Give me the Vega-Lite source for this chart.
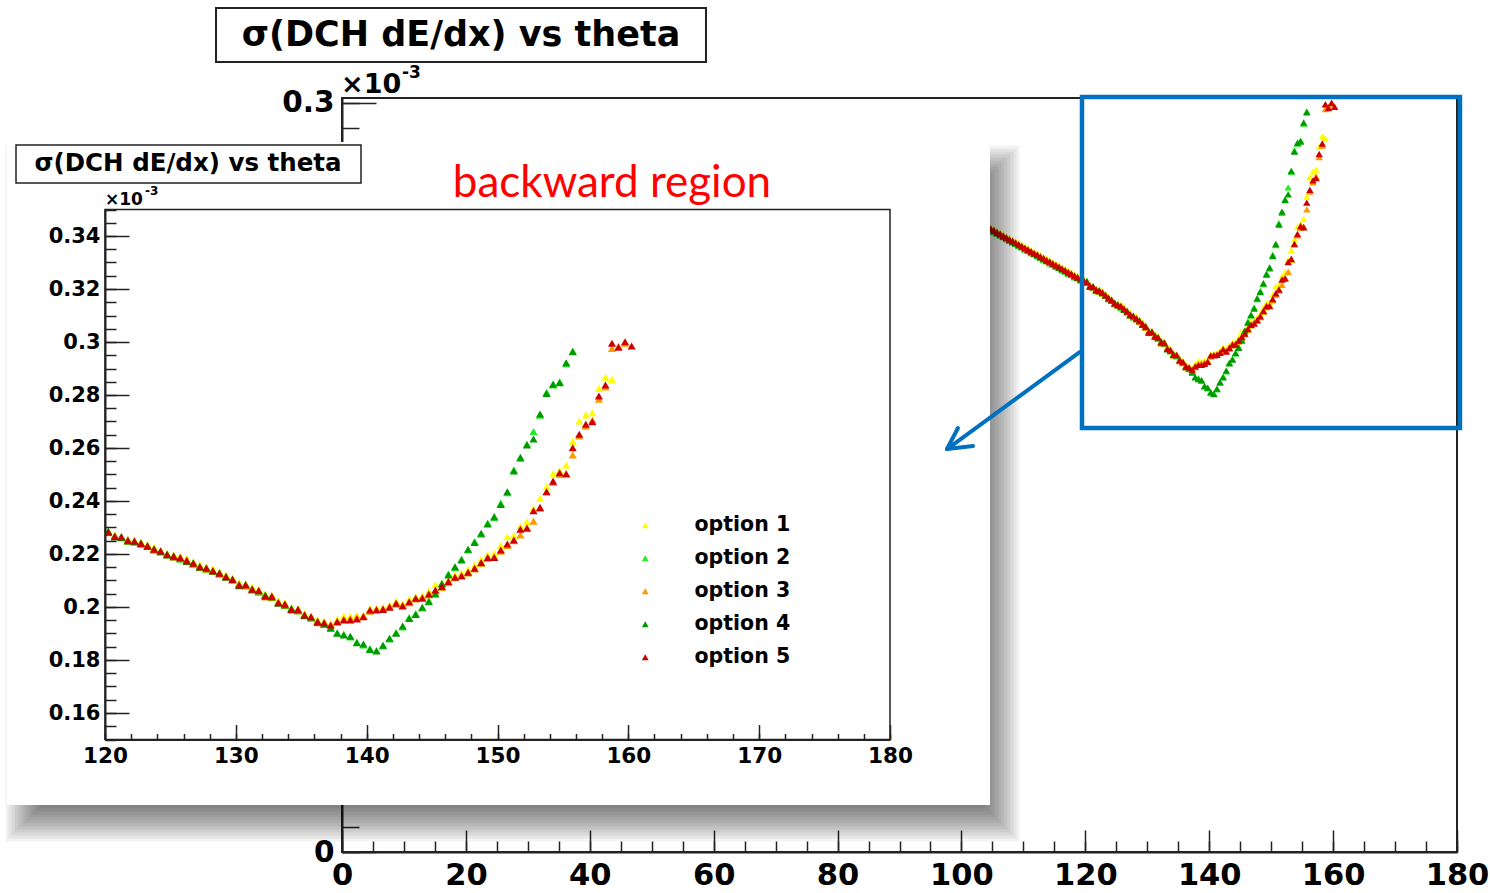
{
"$schema":"https://vega.github.io/schema/vega-lite/v6.json",
"width":1115,"height":754,
"autosize":{"type":"none"},
"padding":{"left":342,"top":98,"right":33,"bottom":41},
"background":"white",
"config":{"view":{"stroke":null},
 "axis":{"grid":false,"title":null,"domainColor":"#222","domainWidth":2,"tickColor":"#222","tickWidth":1.5,"labelFont":"DejaVu Sans","labelFontWeight":"bold","labelColor":"#000","labelOverlap":false,"labelFlush":false,"labelBound":false}},
"datasets":{"pts":[
{"t":104.25,"o":1,"v":0.2508},{"t":104.75,"o":1,"v":0.2500},{"t":105.25,"o":1,"v":0.2496},{"t":105.75,"o":1,"v":0.2487},{"t":106.25,"o":1,"v":0.2481},{"t":106.75,"o":1,"v":0.2474},{"t":107.25,"o":1,"v":0.2466},{"t":107.75,"o":1,"v":0.2460},{"t":108.25,"o":1,"v":0.2452},{"t":108.75,"o":1,"v":0.2447},{"t":109.25,"o":1,"v":0.2438},{"t":109.75,"o":1,"v":0.2433},{"t":110.25,"o":1,"v":0.2424},{"t":110.75,"o":1,"v":0.2419},{"t":111.25,"o":1,"v":0.2410},{"t":111.75,"o":1,"v":0.2405},{"t":112.25,"o":1,"v":0.2397},{"t":112.75,"o":1,"v":0.2391},{"t":113.25,"o":1,"v":0.2383},{"t":113.75,"o":1,"v":0.2377},{"t":114.25,"o":1,"v":0.2369},{"t":114.75,"o":1,"v":0.2364},{"t":115.25,"o":1,"v":0.2355},{"t":115.75,"o":1,"v":0.2350},{"t":116.25,"o":1,"v":0.2341},{"t":116.75,"o":1,"v":0.2336},{"t":117.25,"o":1,"v":0.2327},{"t":117.75,"o":1,"v":0.2323},{"t":118.25,"o":1,"v":0.2313},{"t":118.75,"o":1,"v":0.2309},{"t":119.25,"o":1,"v":0.2300},{"t":119.75,"o":1,"v":0.2294},
{"t":120.25,"o":1,"v":0.2287},{"t":120.75,"o":1,"v":0.2272},{"t":121.25,"o":1,"v":0.2262},{"t":121.75,"o":1,"v":0.2256},{"t":122.25,"o":1,"v":0.2252},{"t":122.75,"o":1,"v":0.2246},{"t":123.25,"o":1,"v":0.2236},{"t":123.75,"o":1,"v":0.2226},{"t":124.25,"o":1,"v":0.2214},{"t":124.75,"o":1,"v":0.2203},{"t":125.25,"o":1,"v":0.2198},{"t":125.75,"o":1,"v":0.2192},{"t":126.25,"o":1,"v":0.2182},{"t":126.75,"o":1,"v":0.2170},{"t":127.25,"o":1,"v":0.2160},{"t":127.75,"o":1,"v":0.2150},{"t":128.25,"o":1,"v":0.2145},{"t":128.75,"o":1,"v":0.2134},{"t":129.25,"o":1,"v":0.2121},{"t":129.75,"o":1,"v":0.2110},{"t":130.25,"o":1,"v":0.2092},{"t":130.75,"o":1,"v":0.2088},{"t":131.25,"o":1,"v":0.2075},{"t":131.75,"o":1,"v":0.2067},{"t":132.25,"o":1,"v":0.2050},{"t":132.75,"o":1,"v":0.2045},{"t":133.25,"o":1,"v":0.2024},{"t":133.75,"o":1,"v":0.2016},{"t":134.25,"o":1,"v":0.1999},{"t":134.75,"o":1,"v":0.1995},{"t":135.25,"o":1,"v":0.1976},{"t":135.75,"o":1,"v":0.1967},{"t":136.25,"o":1,"v":0.1952},{"t":136.75,"o":1,"v":0.1946},{"t":137.25,"o":1,"v":0.1938},{"t":137.75,"o":1,"v":0.1955},{"t":138.25,"o":1,"v":0.1966},{"t":138.75,"o":1,"v":0.1964},{"t":139.25,"o":1,"v":0.1968},{"t":139.75,"o":1,"v":0.1970},{"t":140.25,"o":1,"v":0.1994},{"t":140.75,"o":1,"v":0.1996},{"t":141.25,"o":1,"v":0.1998},{"t":141.75,"o":1,"v":0.2008},{"t":142.25,"o":1,"v":0.2022},{"t":142.75,"o":1,"v":0.2012},{"t":143.25,"o":1,"v":0.2030},{"t":143.75,"o":1,"v":0.2040},{"t":144.25,"o":1,"v":0.2042},{"t":144.75,"o":1,"v":0.2060},{"t":145.25,"o":1,"v":0.2085},{"t":145.75,"o":1,"v":0.2089},{"t":146.25,"o":1,"v":0.2106},{"t":146.75,"o":1,"v":0.2122},{"t":147.25,"o":1,"v":0.2128},{"t":147.75,"o":1,"v":0.2142},{"t":148.25,"o":1,"v":0.2158},{"t":148.75,"o":1,"v":0.2180},{"t":149.25,"o":1,"v":0.2198},{"t":149.75,"o":1,"v":0.2203},{"t":150.25,"o":1,"v":0.2232},{"t":150.75,"o":1,"v":0.2265},{"t":151.25,"o":1,"v":0.2270},{"t":151.75,"o":1,"v":0.2305},{"t":152.25,"o":1,"v":0.2322},{"t":152.75,"o":1,"v":0.2372},{"t":153.25,"o":1,"v":0.2410},{"t":153.75,"o":1,"v":0.2454},{"t":154.25,"o":1,"v":0.2504},{"t":154.75,"o":1,"v":0.2515},{"t":155.25,"o":1,"v":0.2536},{"t":155.75,"o":1,"v":0.2625},{"t":156.25,"o":1,"v":0.2702},{"t":156.75,"o":1,"v":0.2725},{"t":157.25,"o":1,"v":0.2733},{"t":157.75,"o":1,"v":0.2825},{"t":158.25,"o":1,"v":0.2867},{"t":158.75,"o":1,"v":0.2859},
{"t":104.25,"o":2,"v":0.2497},{"t":104.75,"o":2,"v":0.2490},{"t":105.25,"o":2,"v":0.2483},{"t":105.75,"o":2,"v":0.2477},{"t":106.25,"o":2,"v":0.2469},{"t":106.75,"o":2,"v":0.2463},{"t":107.25,"o":2,"v":0.2455},{"t":107.75,"o":2,"v":0.2449},{"t":108.25,"o":2,"v":0.2441},{"t":108.75,"o":2,"v":0.2436},{"t":109.25,"o":2,"v":0.2427},{"t":109.75,"o":2,"v":0.2422},{"t":110.25,"o":2,"v":0.2413},{"t":110.75,"o":2,"v":0.2408},{"t":111.25,"o":2,"v":0.2399},{"t":111.75,"o":2,"v":0.2394},{"t":112.25,"o":2,"v":0.2386},{"t":112.75,"o":2,"v":0.2380},{"t":113.25,"o":2,"v":0.2372},{"t":113.75,"o":2,"v":0.2366},{"t":114.25,"o":2,"v":0.2358},{"t":114.75,"o":2,"v":0.2353},{"t":115.25,"o":2,"v":0.2344},{"t":115.75,"o":2,"v":0.2339},{"t":116.25,"o":2,"v":0.2330},{"t":116.75,"o":2,"v":0.2325},{"t":117.25,"o":2,"v":0.2316},{"t":117.75,"o":2,"v":0.2312},{"t":118.25,"o":2,"v":0.2302},{"t":118.75,"o":2,"v":0.2298},{"t":119.25,"o":2,"v":0.2289},{"t":119.75,"o":2,"v":0.2284},
{"t":120.25,"o":2,"v":0.2288},{"t":120.75,"o":2,"v":0.2264},{"t":121.25,"o":2,"v":0.2266},{"t":121.75,"o":2,"v":0.2247},{"t":122.25,"o":2,"v":0.2250},{"t":122.75,"o":2,"v":0.2236},{"t":123.25,"o":2,"v":0.2232},{"t":123.75,"o":2,"v":0.2214},{"t":124.25,"o":2,"v":0.2212},{"t":124.75,"o":2,"v":0.2195},{"t":125.25,"o":2,"v":0.2194},{"t":125.75,"o":2,"v":0.2180},{"t":126.25,"o":2,"v":0.2177},{"t":126.75,"o":2,"v":0.2162},{"t":127.25,"o":2,"v":0.2155},{"t":127.75,"o":2,"v":0.2141},{"t":128.25,"o":2,"v":0.2138},{"t":128.75,"o":2,"v":0.2125},{"t":129.25,"o":2,"v":0.2117},{"t":129.75,"o":2,"v":0.2102},{"t":130.25,"o":2,"v":0.2088},{"t":130.75,"o":2,"v":0.2080},{"t":131.25,"o":2,"v":0.2070},{"t":131.75,"o":2,"v":0.2056},{"t":132.25,"o":2,"v":0.2046},{"t":132.75,"o":2,"v":0.2035},{"t":133.25,"o":2,"v":0.2019},{"t":133.75,"o":2,"v":0.2005},{"t":134.25,"o":2,"v":0.1995},{"t":134.75,"o":2,"v":0.1985},{"t":135.25,"o":2,"v":0.1972},{"t":135.75,"o":2,"v":0.1958},{"t":136.25,"o":2,"v":0.1946},{"t":136.75,"o":2,"v":0.1934},{"t":137.25,"o":2,"v":0.1923},{"t":137.75,"o":2,"v":0.1903},{"t":138.25,"o":2,"v":0.1897},{"t":138.75,"o":2,"v":0.1887},{"t":139.25,"o":2,"v":0.1868},{"t":139.75,"o":2,"v":0.1857},{"t":140.25,"o":2,"v":0.1843},{"t":140.75,"o":2,"v":0.1836},{"t":141.25,"o":2,"v":0.1853},{"t":141.75,"o":2,"v":0.1879},{"t":142.25,"o":2,"v":0.1904},{"t":142.75,"o":2,"v":0.1925},{"t":143.25,"o":2,"v":0.1960},{"t":143.75,"o":2,"v":0.1975},{"t":144.25,"o":2,"v":0.1996},{"t":144.75,"o":2,"v":0.2024},{"t":145.25,"o":2,"v":0.2052},{"t":145.75,"o":2,"v":0.2086},{"t":146.25,"o":2,"v":0.2125},{"t":146.75,"o":2,"v":0.2149},{"t":147.25,"o":2,"v":0.2181},{"t":147.75,"o":2,"v":0.2215},{"t":148.25,"o":2,"v":0.2247},{"t":148.75,"o":2,"v":0.2275},{"t":149.25,"o":2,"v":0.2317},{"t":149.75,"o":2,"v":0.2337},{"t":150.25,"o":2,"v":0.2392},{"t":150.75,"o":2,"v":0.2431},{"t":151.25,"o":2,"v":0.2518},{"t":151.75,"o":2,"v":0.2560},{"t":152.25,"o":2,"v":0.2615},{"t":152.75,"o":2,"v":0.2662},{"t":153.25,"o":2,"v":0.2724},{"t":153.75,"o":2,"v":0.2810},{"t":154.25,"o":2,"v":0.2838},{"t":154.75,"o":2,"v":0.2850},{"t":155.25,"o":2,"v":0.2918},{"t":155.75,"o":2,"v":0.2966},
{"t":104.25,"o":3,"v":0.2504},{"t":104.75,"o":3,"v":0.2496},{"t":105.25,"o":3,"v":0.2491},{"t":105.75,"o":3,"v":0.2483},{"t":106.25,"o":3,"v":0.2477},{"t":106.75,"o":3,"v":0.2469},{"t":107.25,"o":3,"v":0.2462},{"t":107.75,"o":3,"v":0.2455},{"t":108.25,"o":3,"v":0.2449},{"t":108.75,"o":3,"v":0.2441},{"t":109.25,"o":3,"v":0.2435},{"t":109.75,"o":3,"v":0.2428},{"t":110.25,"o":3,"v":0.2420},{"t":110.75,"o":3,"v":0.2414},{"t":111.25,"o":3,"v":0.2407},{"t":111.75,"o":3,"v":0.2399},{"t":112.25,"o":3,"v":0.2394},{"t":112.75,"o":3,"v":0.2386},{"t":113.25,"o":3,"v":0.2379},{"t":113.75,"o":3,"v":0.2372},{"t":114.25,"o":3,"v":0.2366},{"t":114.75,"o":3,"v":0.2358},{"t":115.25,"o":3,"v":0.2352},{"t":115.75,"o":3,"v":0.2345},{"t":116.25,"o":3,"v":0.2337},{"t":116.75,"o":3,"v":0.2331},{"t":117.25,"o":3,"v":0.2324},{"t":117.75,"o":3,"v":0.2317},{"t":118.25,"o":3,"v":0.2310},{"t":118.75,"o":3,"v":0.2303},{"t":119.25,"o":3,"v":0.2297},{"t":119.75,"o":3,"v":0.2290},
{"t":120.25,"o":3,"v":0.2280},{"t":120.75,"o":3,"v":0.2270},{"t":121.25,"o":3,"v":0.2260},{"t":121.75,"o":3,"v":0.2255},{"t":122.25,"o":3,"v":0.2244},{"t":122.75,"o":3,"v":0.2238},{"t":123.25,"o":3,"v":0.2233},{"t":123.75,"o":3,"v":0.2216},{"t":124.25,"o":3,"v":0.2208},{"t":124.75,"o":3,"v":0.2199},{"t":125.25,"o":3,"v":0.2188},{"t":125.75,"o":3,"v":0.2184},{"t":126.25,"o":3,"v":0.2178},{"t":126.75,"o":3,"v":0.2160},{"t":127.25,"o":3,"v":0.2150},{"t":127.75,"o":3,"v":0.2143},{"t":128.25,"o":3,"v":0.2134},{"t":128.75,"o":3,"v":0.2124},{"t":129.25,"o":3,"v":0.2116},{"t":129.75,"o":3,"v":0.2100},{"t":130.25,"o":3,"v":0.2086},{"t":130.75,"o":3,"v":0.2079},{"t":131.25,"o":3,"v":0.2064},{"t":131.75,"o":3,"v":0.2058},{"t":132.25,"o":3,"v":0.2038},{"t":132.75,"o":3,"v":0.2036},{"t":133.25,"o":3,"v":0.2018},{"t":133.75,"o":3,"v":0.2007},{"t":134.25,"o":3,"v":0.1988},{"t":134.75,"o":3,"v":0.1986},{"t":135.25,"o":3,"v":0.1966},{"t":135.75,"o":3,"v":0.1958},{"t":136.25,"o":3,"v":0.1941},{"t":136.75,"o":3,"v":0.1936},{"t":137.25,"o":3,"v":0.1928},{"t":137.75,"o":3,"v":0.1942},{"t":138.25,"o":3,"v":0.1954},{"t":138.75,"o":3,"v":0.1957},{"t":139.25,"o":3,"v":0.1960},{"t":139.75,"o":3,"v":0.1966},{"t":140.25,"o":3,"v":0.1984},{"t":140.75,"o":3,"v":0.1992},{"t":141.25,"o":3,"v":0.1994},{"t":141.75,"o":3,"v":0.2003},{"t":142.25,"o":3,"v":0.2010},{"t":142.75,"o":3,"v":0.2008},{"t":143.25,"o":3,"v":0.2016},{"t":143.75,"o":3,"v":0.2030},{"t":144.25,"o":3,"v":0.2037},{"t":144.75,"o":3,"v":0.2045},{"t":145.25,"o":3,"v":0.2060},{"t":145.75,"o":3,"v":0.2074},{"t":146.25,"o":3,"v":0.2092},{"t":146.75,"o":3,"v":0.2110},{"t":147.25,"o":3,"v":0.2120},{"t":147.75,"o":3,"v":0.2128},{"t":148.25,"o":3,"v":0.2143},{"t":148.75,"o":3,"v":0.2164},{"t":149.25,"o":3,"v":0.2183},{"t":149.75,"o":3,"v":0.2190},{"t":150.25,"o":3,"v":0.2210},{"t":150.75,"o":3,"v":0.2232},{"t":151.25,"o":3,"v":0.2250},{"t":151.75,"o":3,"v":0.2272},{"t":152.25,"o":3,"v":0.2300},{"t":152.75,"o":3,"v":0.2324},{"t":153.25,"o":3,"v":0.2372},{"t":153.75,"o":3,"v":0.2435},{"t":154.25,"o":3,"v":0.2470},{"t":154.75,"o":3,"v":0.2500},{"t":155.25,"o":3,"v":0.2504},{"t":155.75,"o":3,"v":0.2574},{"t":156.25,"o":3,"v":0.2645},{"t":156.75,"o":3,"v":0.2682},{"t":157.25,"o":3,"v":0.2706},{"t":157.75,"o":3,"v":0.2784},{"t":158.25,"o":3,"v":0.2830},{"t":158.75,"o":3,"v":0.2976},{"t":159.25,"o":3,"v":0.2984},{"t":159.75,"o":3,"v":0.2995},
{"t":104.25,"o":4,"v":0.2500},{"t":104.75,"o":4,"v":0.2493},{"t":105.25,"o":4,"v":0.2487},{"t":105.75,"o":4,"v":0.2479},{"t":106.25,"o":4,"v":0.2473},{"t":106.75,"o":4,"v":0.2465},{"t":107.25,"o":4,"v":0.2459},{"t":107.75,"o":4,"v":0.2451},{"t":108.25,"o":4,"v":0.2445},{"t":108.75,"o":4,"v":0.2438},{"t":109.25,"o":4,"v":0.2431},{"t":109.75,"o":4,"v":0.2424},{"t":110.25,"o":4,"v":0.2417},{"t":110.75,"o":4,"v":0.2410},{"t":111.25,"o":4,"v":0.2403},{"t":111.75,"o":4,"v":0.2396},{"t":112.25,"o":4,"v":0.2390},{"t":112.75,"o":4,"v":0.2382},{"t":113.25,"o":4,"v":0.2376},{"t":113.75,"o":4,"v":0.2368},{"t":114.25,"o":4,"v":0.2362},{"t":114.75,"o":4,"v":0.2355},{"t":115.25,"o":4,"v":0.2348},{"t":115.75,"o":4,"v":0.2341},{"t":116.25,"o":4,"v":0.2334},{"t":116.75,"o":4,"v":0.2327},{"t":117.25,"o":4,"v":0.2320},{"t":117.75,"o":4,"v":0.2314},{"t":118.25,"o":4,"v":0.2306},{"t":118.75,"o":4,"v":0.2300},{"t":119.25,"o":4,"v":0.2293},{"t":119.75,"o":4,"v":0.2286},
{"t":120.25,"o":4,"v":0.2285},{"t":120.75,"o":4,"v":0.2268},{"t":121.25,"o":4,"v":0.2262},{"t":121.75,"o":4,"v":0.2252},{"t":122.25,"o":4,"v":0.2246},{"t":122.75,"o":4,"v":0.2242},{"t":123.25,"o":4,"v":0.2228},{"t":123.75,"o":4,"v":0.2220},{"t":124.25,"o":4,"v":0.2209},{"t":124.75,"o":4,"v":0.2200},{"t":125.25,"o":4,"v":0.2190},{"t":125.75,"o":4,"v":0.2184},{"t":126.25,"o":4,"v":0.2172},{"t":126.75,"o":4,"v":0.2167},{"t":127.25,"o":4,"v":0.2150},{"t":127.75,"o":4,"v":0.2148},{"t":128.25,"o":4,"v":0.2135},{"t":128.75,"o":4,"v":0.2129},{"t":129.25,"o":4,"v":0.2112},{"t":129.75,"o":4,"v":0.2106},{"t":130.25,"o":4,"v":0.2080},{"t":130.75,"o":4,"v":0.2085},{"t":131.25,"o":4,"v":0.2065},{"t":131.75,"o":4,"v":0.2060},{"t":132.25,"o":4,"v":0.2044},{"t":132.75,"o":4,"v":0.2038},{"t":133.25,"o":4,"v":0.2014},{"t":133.75,"o":4,"v":0.2008},{"t":134.25,"o":4,"v":0.1993},{"t":134.75,"o":4,"v":0.1988},{"t":135.25,"o":4,"v":0.1968},{"t":135.75,"o":4,"v":0.1961},{"t":136.25,"o":4,"v":0.1942},{"t":136.75,"o":4,"v":0.1936},{"t":137.25,"o":4,"v":0.1920},{"t":137.75,"o":4,"v":0.1901},{"t":138.25,"o":4,"v":0.1894},{"t":138.75,"o":4,"v":0.1890},{"t":139.25,"o":4,"v":0.1865},{"t":139.75,"o":4,"v":0.1860},{"t":140.25,"o":4,"v":0.1840},{"t":140.75,"o":4,"v":0.1834},{"t":141.25,"o":4,"v":0.1856},{"t":141.75,"o":4,"v":0.1882},{"t":142.25,"o":4,"v":0.1901},{"t":142.75,"o":4,"v":0.1928},{"t":143.25,"o":4,"v":0.1957},{"t":143.75,"o":4,"v":0.1972},{"t":144.25,"o":4,"v":0.1999},{"t":144.75,"o":4,"v":0.2020},{"t":145.25,"o":4,"v":0.2049},{"t":145.75,"o":4,"v":0.2089},{"t":146.25,"o":4,"v":0.2121},{"t":146.75,"o":4,"v":0.2152},{"t":147.25,"o":4,"v":0.2177},{"t":147.75,"o":4,"v":0.2218},{"t":148.25,"o":4,"v":0.2243},{"t":148.75,"o":4,"v":0.2278},{"t":149.25,"o":4,"v":0.2313},{"t":149.75,"o":4,"v":0.2341},{"t":150.25,"o":4,"v":0.2387},{"t":150.75,"o":4,"v":0.2435},{"t":151.25,"o":4,"v":0.2513},{"t":151.75,"o":4,"v":0.2565},{"t":152.25,"o":4,"v":0.2611},{"t":152.75,"o":4,"v":0.2634},{"t":153.25,"o":4,"v":0.2728},{"t":153.75,"o":4,"v":0.2806},{"t":154.25,"o":4,"v":0.2841},{"t":154.75,"o":4,"v":0.2846},{"t":155.25,"o":4,"v":0.2922},{"t":155.75,"o":4,"v":0.2963},
{"t":104.25,"o":5,"v":0.2502},{"t":104.75,"o":5,"v":0.2495},{"t":105.25,"o":5,"v":0.2489},{"t":105.75,"o":5,"v":0.2481},{"t":106.25,"o":5,"v":0.2475},{"t":106.75,"o":5,"v":0.2467},{"t":107.25,"o":5,"v":0.2461},{"t":107.75,"o":5,"v":0.2453},{"t":108.25,"o":5,"v":0.2447},{"t":108.75,"o":5,"v":0.2440},{"t":109.25,"o":5,"v":0.2433},{"t":109.75,"o":5,"v":0.2426},{"t":110.25,"o":5,"v":0.2419},{"t":110.75,"o":5,"v":0.2412},{"t":111.25,"o":5,"v":0.2405},{"t":111.75,"o":5,"v":0.2398},{"t":112.25,"o":5,"v":0.2392},{"t":112.75,"o":5,"v":0.2384},{"t":113.25,"o":5,"v":0.2378},{"t":113.75,"o":5,"v":0.2370},{"t":114.25,"o":5,"v":0.2364},{"t":114.75,"o":5,"v":0.2357},{"t":115.25,"o":5,"v":0.2350},{"t":115.75,"o":5,"v":0.2343},{"t":116.25,"o":5,"v":0.2336},{"t":116.75,"o":5,"v":0.2329},{"t":117.25,"o":5,"v":0.2322},{"t":117.75,"o":5,"v":0.2316},{"t":118.25,"o":5,"v":0.2308},{"t":118.75,"o":5,"v":0.2302},{"t":119.25,"o":5,"v":0.2295},{"t":119.75,"o":5,"v":0.2288},
{"t":120.25,"o":5,"v":0.2282},{"t":120.75,"o":5,"v":0.2265},{"t":121.25,"o":5,"v":0.2265},{"t":121.75,"o":5,"v":0.2250},{"t":122.25,"o":5,"v":0.2249},{"t":122.75,"o":5,"v":0.2240},{"t":123.25,"o":5,"v":0.2230},{"t":123.75,"o":5,"v":0.2218},{"t":124.25,"o":5,"v":0.2211},{"t":124.75,"o":5,"v":0.2197},{"t":125.25,"o":5,"v":0.2192},{"t":125.75,"o":5,"v":0.2187},{"t":126.25,"o":5,"v":0.2175},{"t":126.75,"o":5,"v":0.2165},{"t":127.25,"o":5,"v":0.2152},{"t":127.75,"o":5,"v":0.2146},{"t":128.25,"o":5,"v":0.2137},{"t":128.75,"o":5,"v":0.2127},{"t":129.25,"o":5,"v":0.2114},{"t":129.75,"o":5,"v":0.2104},{"t":130.25,"o":5,"v":0.2083},{"t":130.75,"o":5,"v":0.2083},{"t":131.25,"o":5,"v":0.2067},{"t":131.75,"o":5,"v":0.2062},{"t":132.25,"o":5,"v":0.2041},{"t":132.75,"o":5,"v":0.2041},{"t":133.25,"o":5,"v":0.2016},{"t":133.75,"o":5,"v":0.2011},{"t":134.25,"o":5,"v":0.1991},{"t":134.75,"o":5,"v":0.1991},{"t":135.25,"o":5,"v":0.1970},{"t":135.75,"o":5,"v":0.1963},{"t":136.25,"o":5,"v":0.1945},{"t":136.75,"o":5,"v":0.1941},{"t":137.25,"o":5,"v":0.1932},{"t":137.75,"o":5,"v":0.1945},{"t":138.25,"o":5,"v":0.1951},{"t":138.75,"o":5,"v":0.1951},{"t":139.25,"o":5,"v":0.1955},{"t":139.75,"o":5,"v":0.1963},{"t":140.25,"o":5,"v":0.1989},{"t":140.75,"o":5,"v":0.1989},{"t":141.25,"o":5,"v":0.1991},{"t":141.75,"o":5,"v":0.1999},{"t":142.25,"o":5,"v":0.2014},{"t":142.75,"o":5,"v":0.2004},{"t":143.25,"o":5,"v":0.2020},{"t":143.75,"o":5,"v":0.2033},{"t":144.25,"o":5,"v":0.2033},{"t":144.75,"o":5,"v":0.2049},{"t":145.25,"o":5,"v":0.2064},{"t":145.75,"o":5,"v":0.2077},{"t":146.25,"o":5,"v":0.2096},{"t":146.75,"o":5,"v":0.2112},{"t":147.25,"o":5,"v":0.2117},{"t":147.75,"o":5,"v":0.2131},{"t":148.25,"o":5,"v":0.2146},{"t":148.75,"o":5,"v":0.2168},{"t":149.25,"o":5,"v":0.2187},{"t":149.75,"o":5,"v":0.2187},{"t":150.25,"o":5,"v":0.2215},{"t":150.75,"o":5,"v":0.2238},{"t":151.25,"o":5,"v":0.2253},{"t":151.75,"o":5,"v":0.2293},{"t":152.25,"o":5,"v":0.2297},{"t":152.75,"o":5,"v":0.2363},{"t":153.25,"o":5,"v":0.2376},{"t":153.75,"o":5,"v":0.2435},{"t":154.25,"o":5,"v":0.2475},{"t":154.75,"o":5,"v":0.2507},{"t":155.25,"o":5,"v":0.2502},{"t":155.75,"o":5,"v":0.2601},{"t":156.25,"o":5,"v":0.2652},{"t":156.75,"o":5,"v":0.2690},{"t":157.25,"o":5,"v":0.2699},{"t":157.75,"o":5,"v":0.2796},{"t":158.25,"o":5,"v":0.2838},{"t":158.75,"o":5,"v":0.2995},{"t":159.25,"o":5,"v":0.2980},{"t":159.75,"o":5,"v":0.3001},{"t":160.25,"o":5,"v":0.2985}
]},
"resolve":{"scale":{"x":"independent","y":"independent"}},
"layer":[
{"layer":[
 {"data":{"values":[{}]},"mark":{"type":"rect","fill":null,"stroke":"#222","strokeWidth":2},
  "encoding":{"x":{"datum":0,"type":"quantitative","scale":{"domain":[0,180],"nice":false,"zero":false},"axis":null},"x2":{"datum":180},
   "y":{"datum":0,"type":"quantitative","scale":{"domain":[0,0.302],"nice":false,"zero":false},"axis":null},"y2":{"datum":0.302}}},
 {"data":{"values":[{}]},"mark":{"type":"rect","fill":"white","stroke":"#222","strokeWidth":2},
  "encoding":{"x":{"datum":-20.34,"type":"quantitative","scale":{"domain":[0,180],"nice":false,"zero":false},"axis":null},"x2":{"datum":58.76},
   "y":{"datum":0.31642,"type":"quantitative","scale":{"domain":[0,0.302],"nice":false,"zero":false},"axis":null},"y2":{"datum":0.33805}}},
 {"data":{"values":[{}]},"mark":{"type":"text","text":"σ(DCH dE/dx) vs theta","font":"DejaVu Sans","fontWeight":"bold","fontSize":35,"align":"center","baseline":"middle","color":"#000"},
  "encoding":{"x":{"datum":19.21,"type":"quantitative","scale":{"domain":[0,180],"nice":false,"zero":false},"axis":null},
   "y":{"datum":0.32724,"type":"quantitative","scale":{"domain":[0,0.302],"nice":false,"zero":false},"axis":null}}},
 {"data":{"values":[{}]},"mark":{"type":"text","text":"×10","font":"DejaVu Sans","fontWeight":"bold","fontSize":27,"align":"left","baseline":"alphabetic","color":"#000"},
  "encoding":{"x":{"datum":-0.16,"type":"quantitative","scale":{"domain":[0,180],"nice":false,"zero":false},"axis":null},
   "y":{"datum":0.30400,"type":"quantitative","scale":{"domain":[0,0.302],"nice":false,"zero":false},"axis":null}}},
 {"data":{"values":[{}]},"mark":{"type":"text","text":"-3","font":"DejaVu Sans","fontWeight":"bold","fontSize":17,"align":"left","baseline":"alphabetic","color":"#000"},
  "encoding":{"x":{"datum":9.69,"type":"quantitative","scale":{"domain":[0,180],"nice":false,"zero":false},"axis":null},
   "y":{"datum":0.31001,"type":"quantitative","scale":{"domain":[0,0.302],"nice":false,"zero":false},"axis":null}}}
]},
{"data":{"name":"pts"},"mark":{"type":"point","shape":"triangle-up","filled":true,"size":55,"opacity":1,"strokeWidth":0},
 "encoding":{
  "x":{"field":"t","type":"quantitative","scale":{"domain":[0,180],"nice":false,"zero":false},
    "axis":{"orient":"bottom","values":[0,20,40,60,80,100,120,140,160,180],"format":"d","tickSize":-22,"labelPadding":30,"labelFontSize":30.5,"zindex":0}},
  "y":{"field":"v","type":"quantitative","scale":{"domain":[0,0.302],"nice":false,"zero":false},
    "axis":{"orient":"left","values":[0,0.1,0.2,0.3],"format":"~g","tickSize":-34,"labelPadding":42,"labelFontSize":29.5,"zindex":0}},
  "color":{"field":"o","type":"nominal","scale":{"domain":[1,2,3,4,5],"range":["#ffff00","#22ee22","#ff9900","#009900","#cc0000"]},
    "legend":{"orient":"none","legendX":293,"legendY":417,"title":null,"symbolType":"triangle-up","symbolSize":45,"symbolStrokeWidth":0,
      "labelFont":"DejaVu Sans","labelFontWeight":"bold","labelFontSize":20.5,"labelColor":"#000","labelExpr":"'option ' + datum.label",
      "rowPadding":12,"labelOffset":39,"padding":0}}}},
{"data":{"name":"pts"},"mark":{"type":"point","opacity":0},
 "encoding":{
  "x":{"field":"t","type":"quantitative","scale":{"domain":[0,180],"nice":false,"zero":false},
    "axis":{"orient":"bottom","values":[0,5,10,15,20,25,30,35,40,45,50,55,60,65,70,75,80,85,90,95,100,105,110,115,120,125,130,135,140,145,150,155,160,165,170,175,180],"labels":false,"domain":false,"tickSize":-11,"zindex":0}},
  "y":{"field":"v","type":"quantitative","scale":{"domain":[0,0.302],"nice":false,"zero":false},
    "axis":{"orient":"left","values":[0,0.01,0.02,0.03,0.04,0.05,0.06,0.07,0.08,0.09,0.1,0.11,0.12,0.13,0.14,0.15,0.16,0.17,0.18,0.19,0.2,0.21,0.22,0.23,0.24,0.25,0.26,0.27,0.28,0.29,0.3],"labels":false,"domain":false,"tickSize":-17,"zindex":0}}}},
{"layer":[
 {"data":{"values":[{}]},"mark":{"type":"rect","fill":"#000","fillOpacity":0.05},"encoding":{"x":{"datum":115.3758,"type":"quantitative","scale":{"domain":[120,180],"range":[-237,548],"nice":false,"zero":false},"axis":null},"x2":{"datum":186.9172},"y":{"datum":0.126226,"type":"quantitative","scale":{"domain":[0.15,0.35],"range":[641.5,111.5],"nice":false,"zero":false},"axis":null},"y2":{"datum":0.359434}}},
 {"data":{"values":[{}]},"mark":{"type":"rect","fill":"#000","fillOpacity":0.05},"encoding":{"x":{"datum":115.1465,"type":"quantitative","scale":{"domain":[120,180],"range":[-237,548],"nice":false,"zero":false},"axis":null},"x2":{"datum":187.1465},"y":{"datum":0.125094,"type":"quantitative","scale":{"domain":[0.15,0.35],"range":[641.5,111.5],"nice":false,"zero":false},"axis":null},"y2":{"datum":0.360566}}},
 {"data":{"values":[{}]},"mark":{"type":"rect","fill":"#000","fillOpacity":0.05},"encoding":{"x":{"datum":114.9172,"type":"quantitative","scale":{"domain":[120,180],"range":[-237,548],"nice":false,"zero":false},"axis":null},"x2":{"datum":187.3758},"y":{"datum":0.123962,"type":"quantitative","scale":{"domain":[0.15,0.35],"range":[641.5,111.5],"nice":false,"zero":false},"axis":null},"y2":{"datum":0.361698}}},
 {"data":{"values":[{}]},"mark":{"type":"rect","fill":"#000","fillOpacity":0.05},"encoding":{"x":{"datum":114.6879,"type":"quantitative","scale":{"domain":[120,180],"range":[-237,548],"nice":false,"zero":false},"axis":null},"x2":{"datum":187.6051},"y":{"datum":0.122830,"type":"quantitative","scale":{"domain":[0.15,0.35],"range":[641.5,111.5],"nice":false,"zero":false},"axis":null},"y2":{"datum":0.362830}}},
 {"data":{"values":[{}]},"mark":{"type":"rect","fill":"#000","fillOpacity":0.05},"encoding":{"x":{"datum":114.4586,"type":"quantitative","scale":{"domain":[120,180],"range":[-237,548],"nice":false,"zero":false},"axis":null},"x2":{"datum":187.8344},"y":{"datum":0.121698,"type":"quantitative","scale":{"domain":[0.15,0.35],"range":[641.5,111.5],"nice":false,"zero":false},"axis":null},"y2":{"datum":0.363962}}},
 {"data":{"values":[{}]},"mark":{"type":"rect","fill":"#000","fillOpacity":0.05},"encoding":{"x":{"datum":114.2293,"type":"quantitative","scale":{"domain":[120,180],"range":[-237,548],"nice":false,"zero":false},"axis":null},"x2":{"datum":188.0637},"y":{"datum":0.120566,"type":"quantitative","scale":{"domain":[0.15,0.35],"range":[641.5,111.5],"nice":false,"zero":false},"axis":null},"y2":{"datum":0.365094}}},
 {"data":{"values":[{}]},"mark":{"type":"rect","fill":"#000","fillOpacity":0.05},"encoding":{"x":{"datum":114.0,"type":"quantitative","scale":{"domain":[120,180],"range":[-237,548],"nice":false,"zero":false},"axis":null},"x2":{"datum":188.2930},"y":{"datum":0.119434,"type":"quantitative","scale":{"domain":[0.15,0.35],"range":[641.5,111.5],"nice":false,"zero":false},"axis":null},"y2":{"datum":0.366226}}},
 {"data":{"values":[{}]},"mark":{"type":"rect","fill":"#000","fillOpacity":0.05},"encoding":{"x":{"datum":113.7707,"type":"quantitative","scale":{"domain":[120,180],"range":[-237,548],"nice":false,"zero":false},"axis":null},"x2":{"datum":188.5223},"y":{"datum":0.118302,"type":"quantitative","scale":{"domain":[0.15,0.35],"range":[641.5,111.5],"nice":false,"zero":false},"axis":null},"y2":{"datum":0.367358}}},
 {"data":{"values":[{}]},"mark":{"type":"rect","fill":"#000","fillOpacity":0.05},"encoding":{"x":{"datum":113.5414,"type":"quantitative","scale":{"domain":[120,180],"range":[-237,548],"nice":false,"zero":false},"axis":null},"x2":{"datum":188.7516},"y":{"datum":0.117170,"type":"quantitative","scale":{"domain":[0.15,0.35],"range":[641.5,111.5],"nice":false,"zero":false},"axis":null},"y2":{"datum":0.368491}}},
 {"data":{"values":[{}]},"mark":{"type":"rect","fill":"#000","fillOpacity":0.05},"encoding":{"x":{"datum":113.3121,"type":"quantitative","scale":{"domain":[120,180],"range":[-237,548],"nice":false,"zero":false},"axis":null},"x2":{"datum":188.9809},"y":{"datum":0.116038,"type":"quantitative","scale":{"domain":[0.15,0.35],"range":[641.5,111.5],"nice":false,"zero":false},"axis":null},"y2":{"datum":0.369623}}},
 {"data":{"values":[{}]},"mark":{"type":"rect","fill":"#000","fillOpacity":0.05},"encoding":{"x":{"datum":113.0828,"type":"quantitative","scale":{"domain":[120,180],"range":[-237,548],"nice":false,"zero":false},"axis":null},"x2":{"datum":189.2102},"y":{"datum":0.114906,"type":"quantitative","scale":{"domain":[0.15,0.35],"range":[641.5,111.5],"nice":false,"zero":false},"axis":null},"y2":{"datum":0.370755}}},
 {"data":{"values":[{}]},"mark":{"type":"rect","fill":"#000","fillOpacity":0.05},"encoding":{"x":{"datum":112.8535,"type":"quantitative","scale":{"domain":[120,180],"range":[-237,548],"nice":false,"zero":false},"axis":null},"x2":{"datum":189.4395},"y":{"datum":0.113774,"type":"quantitative","scale":{"domain":[0.15,0.35],"range":[641.5,111.5],"nice":false,"zero":false},"axis":null},"y2":{"datum":0.371887}}},
 {"data":{"values":[{}]},"mark":{"type":"rect","fill":"#000","fillOpacity":0.05},"encoding":{"x":{"datum":112.6242,"type":"quantitative","scale":{"domain":[120,180],"range":[-237,548],"nice":false,"zero":false},"axis":null},"x2":{"datum":189.6688},"y":{"datum":0.112642,"type":"quantitative","scale":{"domain":[0.15,0.35],"range":[641.5,111.5],"nice":false,"zero":false},"axis":null},"y2":{"datum":0.373019}}},
 {"data":{"values":[{}]},"mark":{"type":"rect","fill":"#000","fillOpacity":0.05},"encoding":{"x":{"datum":112.3949,"type":"quantitative","scale":{"domain":[120,180],"range":[-237,548],"nice":false,"zero":false},"axis":null},"x2":{"datum":189.8981},"y":{"datum":0.111509,"type":"quantitative","scale":{"domain":[0.15,0.35],"range":[641.5,111.5],"nice":false,"zero":false},"axis":null},"y2":{"datum":0.374151}}},
 {"data":{"values":[{}]},"mark":{"type":"rect","fill":"white"},
  "encoding":{"x":{"datum":112.5096,"type":"quantitative","scale":{"domain":[120,180],"range":[-237,548],"nice":false,"zero":false},"axis":null},"x2":{"datum":187.643},
   "y":{"datum":0.125283,"type":"quantitative","scale":{"domain":[0.15,0.35],"range":[641.5,111.5],"nice":false,"zero":false},"axis":null},"y2":{"datum":0.375472}}},
 {"data":{"values":[{}]},"mark":{"type":"rect","fill":null,"stroke":"#222","strokeWidth":1.5},
  "encoding":{"x":{"datum":120,"type":"quantitative","scale":{"domain":[120,180],"range":[-237,548],"nice":false,"zero":false},"axis":null},"x2":{"datum":180},
   "y":{"datum":0.15,"type":"quantitative","scale":{"domain":[0.15,0.35],"range":[641.5,111.5],"nice":false,"zero":false},"axis":null},"y2":{"datum":0.35}}},
 {"data":{"values":[{}]},"mark":{"type":"rect","fill":"white","stroke":"#222","strokeWidth":1.5},
  "encoding":{"x":{"datum":113.1975,"type":"quantitative","scale":{"domain":[120,180],"range":[-237,548],"nice":false,"zero":false},"axis":null},"x2":{"datum":139.567},
   "y":{"datum":0.36,"type":"quantitative","scale":{"domain":[0.15,0.35],"range":[641.5,111.5],"nice":false,"zero":false},"axis":null},"y2":{"datum":0.37434}}},
 {"data":{"values":[{}]},"mark":{"type":"text","text":"σ(DCH dE/dx) vs theta","font":"DejaVu Sans","fontWeight":"bold","fontSize":24.5,"align":"center","baseline":"middle","color":"#000"},
  "encoding":{"x":{"datum":126.344,"type":"quantitative","scale":{"domain":[120,180],"range":[-237,548],"nice":false,"zero":false},"axis":null},
   "y":{"datum":0.367358,"type":"quantitative","scale":{"domain":[0.15,0.35],"range":[641.5,111.5],"nice":false,"zero":false},"axis":null}}},
 {"data":{"values":[{}]},"mark":{"type":"text","text":"×10","font":"DejaVu Sans","fontWeight":"bold","fontSize":17,"align":"left","baseline":"alphabetic","color":"#000"},
  "encoding":{"x":{"datum":120,"type":"quantitative","scale":{"domain":[120,180],"range":[-237,548],"nice":false,"zero":false},"axis":null},
   "y":{"datum":0.35151,"type":"quantitative","scale":{"domain":[0.15,0.35],"range":[641.5,111.5],"nice":false,"zero":false},"axis":null}}},
 {"data":{"values":[{}]},"mark":{"type":"text","text":"-3","font":"DejaVu Sans","fontWeight":"bold","fontSize":12,"align":"left","baseline":"alphabetic","color":"#000"},
  "encoding":{"x":{"datum":123.06,"type":"quantitative","scale":{"domain":[120,180],"range":[-237,548],"nice":false,"zero":false},"axis":null},
   "y":{"datum":0.35547,"type":"quantitative","scale":{"domain":[0.15,0.35],"range":[641.5,111.5],"nice":false,"zero":false},"axis":null}}},
 {"data":{"values":[{}]},"mark":{"type":"text","text":"backward region","font":"Lato","fontSize":44,"align":"center","baseline":"alphabetic","color":"#ff0000"},
  "encoding":{"x":{"datum":158.75,"type":"quantitative","scale":{"domain":[120,180],"range":[-237,548],"nice":false,"zero":false},"axis":null},
   "y":{"datum":0.35472,"type":"quantitative","scale":{"domain":[0.15,0.35],"range":[641.5,111.5],"nice":false,"zero":false},"axis":null}}}
]},
{"data":{"name":"pts"},"transform":[{"filter":"datum.t >= 120"}],
 "mark":{"type":"point","shape":"triangle-up","filled":true,"size":66,"opacity":1,"strokeWidth":0},
 "encoding":{
  "x":{"field":"t","type":"quantitative","scale":{"domain":[120,180],"range":[-237,548],"nice":false,"zero":false},
    "axis":{"orient":"bottom","values":[120,130,140,150,160,170,180],"format":"d","tickSize":-15,"labelPadding":21,"labelFontSize":21.5,"zindex":1,"offset":-112.5}},
  "y":{"field":"v","type":"quantitative","scale":{"domain":[0.15,0.35],"range":[641.5,111.5],"nice":false,"zero":false},
    "axis":{"orient":"left","values":[0.16,0.18,0.2,0.22,0.24,0.26,0.28,0.3,0.32,0.34],"format":"~g","tickSize":-24,"labelPadding":29,"labelFontSize":21,"offset":237,"zindex":1}},
  "color":{"field":"o","type":"nominal","legend":null}}},
{"data":{"name":"pts"},"mark":{"type":"point","opacity":0},
 "encoding":{
  "x":{"field":"t","type":"quantitative","scale":{"domain":[120,180],"range":[-237,548],"nice":false,"zero":false},
    "axis":{"orient":"bottom","values":[120,122,124,126,128,130,132,134,136,138,140,142,144,146,148,150,152,154,156,158,160,162,164,166,168,170,172,174,176,178,180],"labels":false,"domain":false,"tickSize":-6,"offset":-112.5,"zindex":1}},
  "y":{"field":"v","type":"quantitative","scale":{"domain":[0.15,0.35],"range":[641.5,111.5],"nice":false,"zero":false},
    "axis":{"orient":"left","values":[0.15,0.155,0.16,0.165,0.17,0.175,0.18,0.185,0.19,0.195,0.2,0.205,0.21,0.215,0.22,0.225,0.23,0.235,0.24,0.245,0.25,0.255,0.26,0.265,0.27,0.275,0.28,0.285,0.29,0.295,0.3,0.305,0.31,0.315,0.32,0.325,0.33,0.335,0.34,0.345,0.35],"labels":false,"domain":false,"tickSize":-11,"offset":237,"zindex":1}}}},
{"layer":[
 {"data":{"values":[{}]},"mark":{"type":"rect","fill":null,"stroke":"#0070c0","strokeWidth":4.5},
  "encoding":{"x":{"datum":119.46,"type":"quantitative","scale":{"domain":[0,180],"nice":false,"zero":false},"axis":null},"x2":{"datum":180.48},
   "y":{"datum":0.16982,"type":"quantitative","scale":{"domain":[0,0.302],"nice":false,"zero":false},"axis":null},"y2":{"datum":0.30240}}},
 {"data":{"values":[{}]},"mark":{"type":"rule","stroke":"#0070c0","strokeWidth":4,"strokeCap":"round"},
  "encoding":{"x":{"datum":119.14,"type":"quantitative","scale":{"domain":[0,180],"nice":false,"zero":false},"axis":null},"x2":{"datum":97.67},
   "y":{"datum":0.20027,"type":"quantitative","scale":{"domain":[0,0.302],"nice":false,"zero":false},"axis":null},"y2":{"datum":0.16141}}},
 {"data":{"values":[{}]},"mark":{"type":"rule","stroke":"#0070c0","strokeWidth":4,"strokeCap":"round"},
  "encoding":{"x":{"datum":99.44,"type":"quantitative","scale":{"domain":[0,180],"nice":false,"zero":false},"axis":null},"x2":{"datum":97.67},
   "y":{"datum":0.16982,"type":"quantitative","scale":{"domain":[0,0.302],"nice":false,"zero":false},"axis":null},"y2":{"datum":0.16141}}},
 {"data":{"values":[{}]},"mark":{"type":"rule","stroke":"#0070c0","strokeWidth":4,"strokeCap":"round"},
  "encoding":{"x":{"datum":101.87,"type":"quantitative","scale":{"domain":[0,180],"nice":false,"zero":false},"axis":null},"x2":{"datum":97.67},
   "y":{"datum":0.16261,"type":"quantitative","scale":{"domain":[0,0.302],"nice":false,"zero":false},"axis":null},"y2":{"datum":0.16141}}}
]}
]
}
